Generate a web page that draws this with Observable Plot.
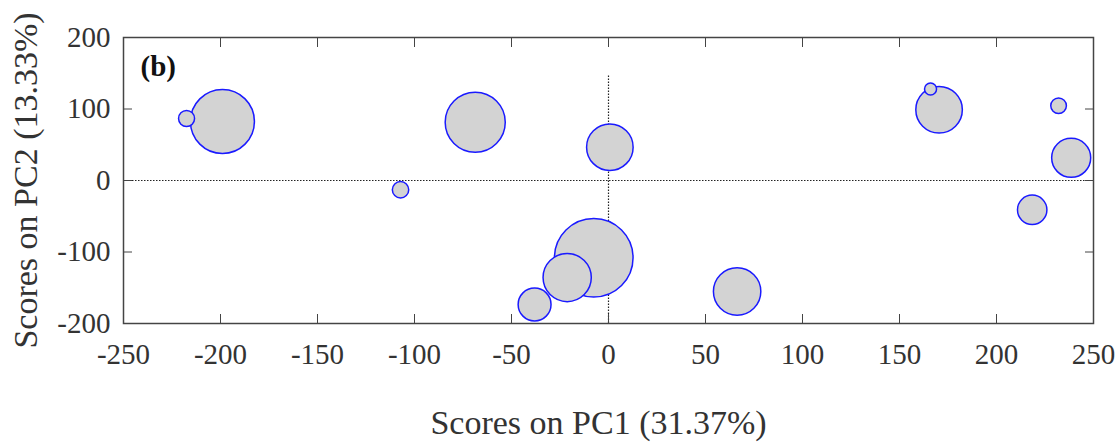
<!DOCTYPE html>
<html>
<head>
<meta charset="utf-8">
<script src="https://cdn.jsdelivr.net/npm/d3@7"></script>
<script src="https://cdn.jsdelivr.net/npm/@observablehq/plot@0.6"></script>
<style>
  html, body { margin: 0; padding: 0; background: #fff; }
  #chart svg { display: block; }
  #chart svg text { font-family: 'Liberation Serif', 'Times New Roman', serif; }
</style>
</head>
<body>
<div id="chart"></div>
<script>
// PCA scores (draw order matters: smaller hidden circles first)
const pc1  = [-217.5, -199, -68.7, 0.7, -107.2, -7.6, -21.3, -38.1, 66.3, 166, 170.4, 232, 238.5, 218.4];
const pc2  = [86.7, 82.5, 81.5, 46.6, -13, -108, -135.7, -173.4, -155.2, 128, 98.9, 104.5, 31.7, -41];
const size = [6.4, 102, 90, 54, 6.7, 154, 58, 27, 56, 3.6, 54, 6.1, 38, 21.6];

const xTicks = [-250, -200, -150, -100, -50, 0, 50, 100, 150, 200, 250];
const yTicks = [-200, -100, 0, 100, 200];
const xLabel = "Scores on PC1 (31.37%)";
const yLabel = "Scores on PC2 (13.33%)";
const panelLabel = "(b)";
const vRule = {y1: -200, y2: 148};

const data = pc1.map((x, i) => ({x, y: pc2[i], s: size[i]}));
const fmt = d => String(d);
const serif = "'Liberation Serif', 'Times New Roman', serif";

const plot = Plot.plot({
  width: 1118,
  height: 444,
  marginLeft: 123,
  marginRight: 25,
  marginTop: 37,
  marginBottom: 121,
  style: {fontFamily: serif, fontSize: "29px", color: "#333", background: "#fff"},
  x: {domain: [-250, 250]},
  y: {domain: [-200, 200]},
  r: {type: "sqrt", domain: [0, 154], range: [0, 39.3]},
  marks: [
    Plot.ruleY([0], {stroke: "#222", strokeWidth: 1.2, strokeDasharray: "1.5,1.5"}),
    Plot.ruleX([0], {y1: vRule.y1, y2: vRule.y2, stroke: "#222", strokeWidth: 1.2, strokeDasharray: "1.5,1.5"}),
    Plot.dot(data, {x: "x", y: "y", r: "s", fill: "#d3d3d3", stroke: "#1a1aff", strokeWidth: 1.5}),
    // inward ticks on all four sides
    Plot.axisX(xTicks, {anchor: "bottom", tickSize: -9, text: null, label: null, stroke: "#444"}),
    Plot.axisX(xTicks, {anchor: "top", tickSize: -9, text: null, label: null, stroke: "#444"}),
    Plot.axisY(yTicks, {anchor: "left", tickSize: -9, text: null, label: null, stroke: "#444"}),
    Plot.axisY(yTicks, {anchor: "right", tickSize: -9, text: null, label: null, stroke: "#444"}),
    // tick labels
    Plot.axisX(xTicks, {anchor: "bottom", tickSize: 0, tickPadding: 20, tickFormat: fmt, fill: "#333",
      fontFamily: serif, fontSize: 29, label: null}),
    Plot.axisY(yTicks, {anchor: "left", tickSize: 0, tickPadding: 13, tickFormat: fmt, fill: "#333",
      fontFamily: serif, fontSize: 34 > 0 ? 29 : 29, label: null}),
    // axis titles
    Plot.text([xLabel], {frameAnchor: "bottom", dx: -10, dy: 110, lineAnchor: "bottom", fill: "#333",
      fontFamily: serif, fontSize: 34}),
    Plot.axisY({anchor: "left", tickSize: 0, text: null, ticks: [], fill: "#333", fontFamily: serif, fontSize: 34,
      label: yLabel, labelAnchor: "center", labelArrow: "none", labelOffset: 111}),
    Plot.frame({stroke: "#444", strokeWidth: 1.5}),
    Plot.text([panelLabel], {frameAnchor: "top-left", dx: 17, dy: 18, fontWeight: "bold", fontSize: 29,
      fontFamily: serif, fill: "#111", textAnchor: "start"})
  ]
});
document.getElementById("chart").appendChild(plot);
</script>
</body>
</html>
